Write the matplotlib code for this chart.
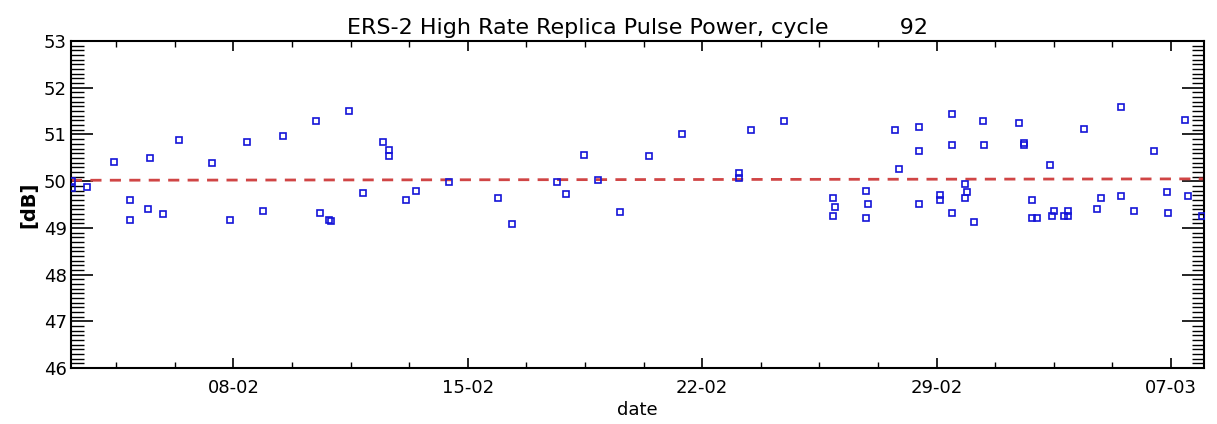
import datetime as dt
import numpy as np
import matplotlib
matplotlib.use("Agg")
import matplotlib.pyplot as plt
import matplotlib.dates as mdates
from matplotlib.ticker import MultipleLocator, FixedLocator

# ---------------------------------------------------------
# Data
# day = fractional day counted from 1 Feb 2004 (1.0 = 01-02 00:00)
# ---------------------------------------------------------
day = [3.18, 3.18, 3.62, 4.44, 4.92, 4.92, 5.46, 5.51, 5.91, 6.39,
       7.37, 7.91, 8.41, 8.90, 9.49, 10.46, 10.58, 10.86, 10.92, 11.45,
       11.88, 12.48, 12.64, 12.64, 13.15, 13.46, 14.44, 15.91, 16.33, 17.66,
       17.93, 18.46, 18.90, 19.56, 20.40, 21.41, 23.10, 23.10, 23.46, 24.45,
       25.92, 25.92, 25.97, 26.89, 26.89, 26.95, 27.77, 27.87, 28.47, 28.47,
       28.47, 29.11, 29.11, 29.46, 29.46, 29.46, 29.84, 29.84, 29.90, 30.11,
       30.38, 30.42, 31.46, 31.62, 31.62, 31.84, 31.84, 31.99, 32.39, 32.44,
       32.50, 32.81, 32.93, 32.93, 33.41, 33.80, 33.91, 34.51, 34.51, 34.89,
       35.49, 35.87, 35.92, 36.41, 36.52, 36.92]
power = [50.00, 49.85, 49.87, 50.42, 49.60, 49.17, 49.41, 50.49, 49.29, 50.89,
         50.39, 49.17, 50.85, 49.37, 50.97, 51.28, 49.32, 49.18, 49.15, 51.51,
         49.75, 50.84, 50.66, 50.54, 49.60, 49.80, 49.99, 49.64, 49.09, 49.99,
         49.72, 50.57, 50.03, 49.33, 50.54, 51.01, 50.17, 50.06, 51.09, 51.28,
         49.64, 49.25, 49.45, 49.79, 49.22, 49.52, 51.09, 50.26, 51.17, 50.65,
         49.52, 49.70, 49.59, 51.44, 50.77, 49.32, 49.95, 49.64, 49.76, 49.13,
         51.28, 50.77, 51.24, 50.81, 50.77, 49.60, 49.22, 49.22, 50.34, 49.25,
         49.37, 49.25, 49.25, 49.37, 51.12, 49.41, 49.64, 51.59, 49.68, 49.37,
         50.65, 49.76, 49.32, 51.31, 49.68, 49.25]

# reference (trend) line, start and end of the cycle
ref_day = [3.15, 37.0]
ref_power = [50.02, 50.05]

x_range = [3.15, 37.0]
cycle = 92

# ---------------------------------------------------------
# Helpers
# ---------------------------------------------------------
t0 = dt.datetime(2004, 2, 1)

def to_date(d):
    return [t0 + dt.timedelta(days=v - 1.0) for v in d]

# ---------------------------------------------------------
# Plot
# ---------------------------------------------------------
fig = plt.figure(figsize=(12.17, 4.24), dpi=100)
ax = fig.add_axes([0.0583, 0.132, 0.9314, 0.7711])

ax.plot(to_date(ref_day), ref_power, linestyle=(0, (4, 3)), color='#d04545',
        linewidth=2.0, zorder=2)
ax.plot(to_date(day), power, linestyle='none', marker='s', markersize=5,
        markerfacecolor='none', markeredgecolor='#1414d8', markeredgewidth=1.2,
        zorder=3)

xlo, xhi = to_date(x_range)
ax.set_xlim(xlo, xhi)
ax.set_ylim(46, 53)

# x ticks: weekly majors, minors every 1.75 days
majors = [mdates.date2num(t0 + dt.timedelta(days=7 + 7 * k)) for k in range(5)]
minors = [mdates.date2num(t0 + dt.timedelta(days=7 + 1.75 * k)) for k in range(-2, 18)]
ax.xaxis.set_major_locator(FixedLocator(majors))
ax.xaxis.set_minor_locator(FixedLocator(minors))
ax.xaxis.set_major_formatter(mdates.DateFormatter('%d-%m'))

ax.yaxis.set_major_locator(MultipleLocator(1))
ax.yaxis.set_minor_locator(MultipleLocator(0.1))
ax.yaxis.set_major_formatter(matplotlib.ticker.FormatStrFormatter('%d'))

ax.tick_params(axis='x', which='major', direction='in', length=7, width=1.2,
               top=True, labelsize=13, pad=8)
ax.tick_params(axis='x', which='minor', direction='in', length=4, width=1.0, top=True)
ax.tick_params(axis='y', which='major', direction='in', length=16, width=1.2,
               right=True, labelsize=13, pad=3)
ax.tick_params(axis='y', which='minor', direction='in', length=9, width=1.0, right=True)

for s in ax.spines.values():
    s.set_linewidth(1.5)

ax.set_title('ERS-2 High Rate Replica Pulse Power, cycle          %d' % cycle,
             fontsize=16, pad=5)
ax.set_xlabel('date', fontsize=13, labelpad=3)
ax.set_ylabel('[dB]', fontsize=14, fontweight='bold', labelpad=4)

fig.savefig('out.png', dpi=100)
